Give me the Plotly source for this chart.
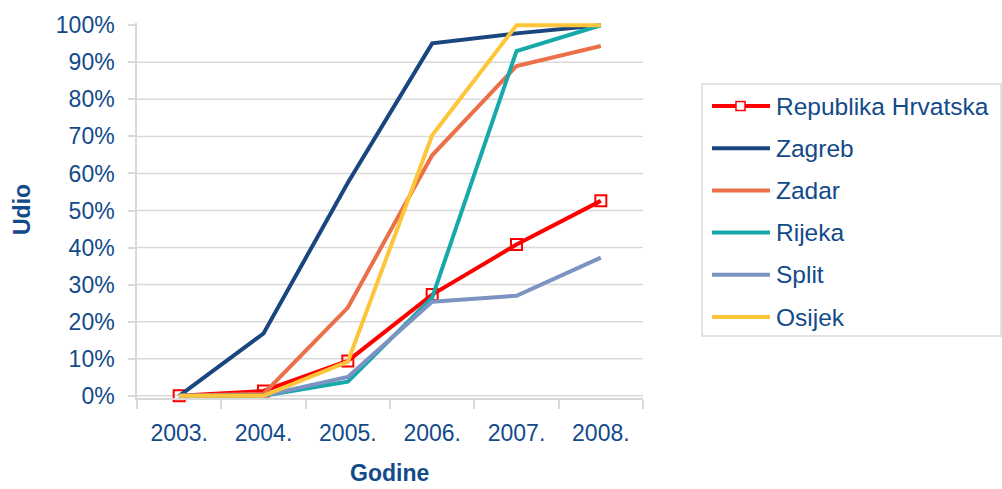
import plotly.graph_objects as go

# Share of cases by year
years = ["2003.", "2004.", "2005.", "2006.", "2007.", "2008."]
names = ["Republika Hrvatska", "Zagreb", "Zadar", "Rijeka", "Split", "Osijek"]
hrvatska = [0.0, 0.013, 0.094, 0.273, 0.408, 0.526]
zagreb = [0.0, 0.168, 0.575, 0.951, 0.978, 1.0]
zadar = [0.0, 0.005, 0.238, 0.649, 0.890, 0.944]
rijeka = [0.0, 0.0, 0.038, 0.265, 0.930, 1.0]
split = [0.0, 0.0, 0.051, 0.254, 0.270, 0.373]
osijek = [0.0, 0.0, 0.092, 0.703, 1.0, 1.0]
y_ticks = [0.0, 0.1, 0.2, 0.3, 0.4, 0.5, 0.6, 0.7, 0.8, 0.9, 1.0]
y_tick_text = ["0%", "10%", "20%", "30%", "40%", "50%", "60%", "70%", "80%", "90%", "100%"]

series = [hrvatska, zagreb, zadar, rijeka, split, osijek]
colors = ["#FF0000", "#1A4680", "#EB7049", "#17A9AA", "#7D93C2", "#FDC53A"]

TEXT = "#124A8A"
FONT = "Liberation Sans, Arial, sans-serif"

# plot area in pixels
L, R, T, B = 137, 359, 23, 91
W, H = 1002, 489
PW, PH = W - L - R, H - T - B


def px_x(x):
    return (x - L) / PW


def px_y(y):
    return (H - B - y) / PH


fig = go.Figure()
for name, vals, col in zip(names, series, colors):
    is_total = name == "Republika Hrvatska"
    fig.add_trace(go.Scatter(
        x=years, y=vals, name=name, mode="lines+markers" if is_total else "lines",
        line=dict(color=col, width=4),
        marker=dict(symbol="square-open", size=11, color=col, line=dict(width=2)),
        showlegend=False, cliponaxis=False,
    ))

shapes = []
# horizontal gridlines (no line at the top of the scale)
for v in y_ticks[1:-1]:
    shapes.append(dict(type="line", xref="paper", yref="y", x0=0, x1=1, y0=v, y1=v,
                       line=dict(color="#D9D9D9", width=1.5), layer="below"))
# baseline at 0%
shapes.append(dict(type="line", xref="paper", yref="y", x0=0, x1=1, y0=0, y1=0,
                   line=dict(color="#D9D9D9", width=1.5), layer="below"))

# legend box
shapes.append(dict(type="rect", xref="paper", yref="paper",
                   x0=px_x(702), x1=px_x(1001), y0=px_y(336), y1=px_y(84),
                   line=dict(color="#D9D9D9", width=1.5), fillcolor="white"))

annotations = []
row0, step = 106, 42.2
for i, (name, col) in enumerate(zip(names, colors)):
    yy = row0 + i * step
    shapes.append(dict(type="line", xref="paper", yref="paper",
                       x0=px_x(712), x1=px_x(770), y0=px_y(yy), y1=px_y(yy),
                       line=dict(color=col, width=4)))
    if name == "Republika Hrvatska":
        shapes.append(dict(type="rect", xref="paper", yref="paper",
                           x0=px_x(736), x1=px_x(745), y0=px_y(yy + 4.5), y1=px_y(yy - 4.5),
                           line=dict(color=col, width=1.5), fillcolor="white"))
    annotations.append(dict(xref="paper", yref="paper", x=px_x(774), y=px_y(yy),
                            xanchor="left", yanchor="middle", showarrow=False,
                            text=name, font=dict(size=24.5, color=TEXT, family=FONT)))

# axis titles
annotations.append(dict(xref="paper", yref="paper", x=px_x(22), y=px_y(210),
                        xanchor="center", yanchor="middle", textangle=-90, showarrow=False,
                        text="<b>Udio</b>", font=dict(size=23, color=TEXT, family=FONT)))
annotations.append(dict(xref="paper", yref="paper", x=px_x(389), y=px_y(488),
                        xanchor="center", yanchor="bottom", showarrow=False,
                        text="<b>Godine</b>", font=dict(size=23, color=TEXT, family=FONT)))

fig.update_layout(
    width=W, height=H,
    margin=dict(l=L, r=R, t=T, b=B, pad=0),
    paper_bgcolor="white", plot_bgcolor="white",
    font=dict(family=FONT, size=23, color=TEXT),
    shapes=shapes, annotations=annotations,
    showlegend=False,
)
fig.update_xaxes(
    type="category", range=[-0.5, 5.5],
    showgrid=False, zeroline=False,
    showline=True, linecolor="#D9D9D9", linewidth=1.5,
    ticks="outside", tickson="boundaries", ticklen=9, tickcolor="#D9D9D9", tickwidth=1.5,
    ticklabelstandoff=14,
    tickfont=dict(size=23, color=TEXT, family=FONT),
)
fig.update_yaxes(
    range=[-0.006, 1.006], tickvals=y_ticks, ticktext=y_tick_text,
    showgrid=False, zeroline=False,
    showline=True, linecolor="#D9D9D9", linewidth=1.5,
    ticks="outside", ticklen=7, tickcolor="#D9D9D9", tickwidth=1.5,
    ticklabelstandoff=9,
    tickfont=dict(size=23, color=TEXT, family=FONT),
)

fig.write_html("out.html")
